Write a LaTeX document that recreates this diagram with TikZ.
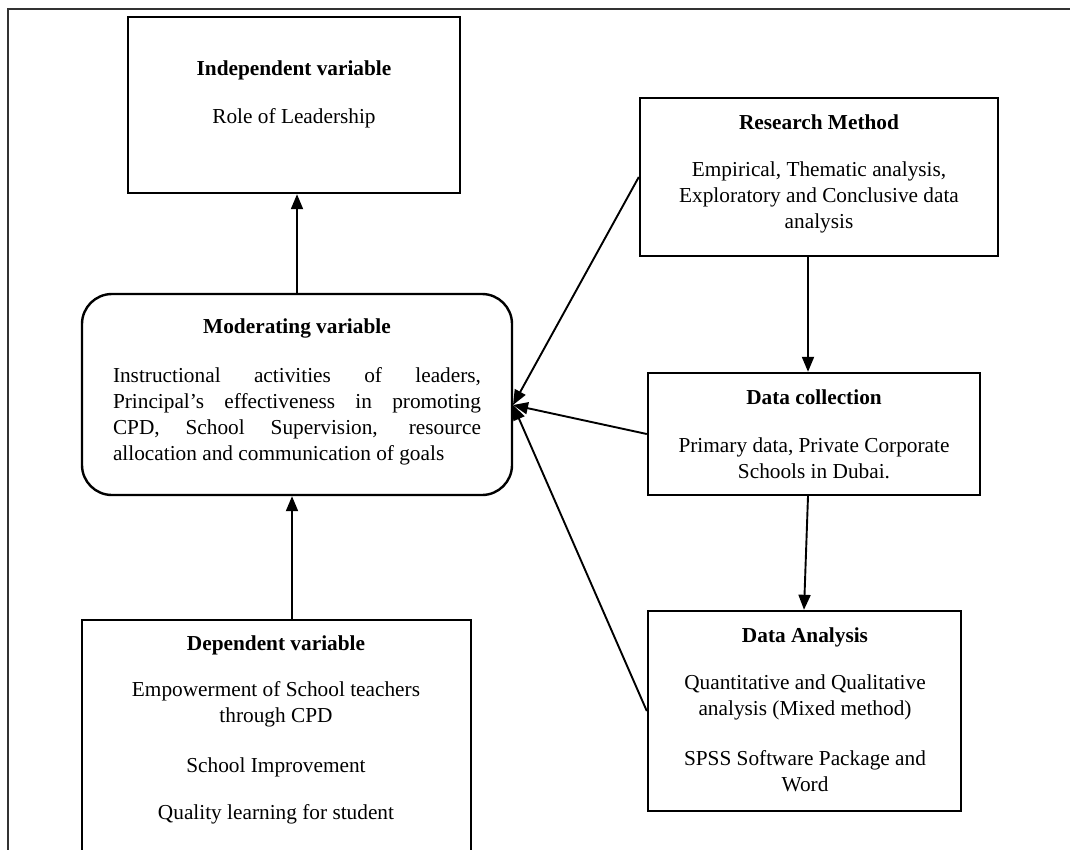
\documentclass[tikz,border=0pt]{standalone}
\usepackage{fontspec}
\setmainfont{Liberation Serif}
\usetikzlibrary{arrows.meta}
\begin{document}
\begin{tikzpicture}[x=1pt,y=-1pt,
  box/.style={draw, line width=2.4pt, inner sep=0pt},
  conn/.style={line width=1.9pt, -{Triangle[length=15pt,width=12pt]}},
  ttl/.style={font=\fontsize{21.3}{26}\selectfont\bfseries, align=center},
  txt/.style={font=\fontsize{21.3}{26}\selectfont, align=center},
]
\useasboundingbox (0,0) rectangle (1070,849);
\clip (0,0) rectangle (1070,849);
\draw[line width=1.4pt, black!80] (8,870) -- (8,9) -- (1080,9);

% boxes
\node[box, minimum width=332pt, minimum height=176pt] (ind) at (294,105) {};
\node[box, minimum width=358pt, minimum height=158pt] (rm) at (819,177) {};
\node[box, rounded corners=30pt, minimum width=430pt, minimum height=201pt] (mod) at (297,394.5) {};
\node[box, minimum width=332pt, minimum height=122pt] (dc) at (814,434) {};
\node[box, minimum width=313pt, minimum height=200pt] (da) at (804.5,711) {};
\node[box, minimum width=389pt, minimum height=300pt] (dep) at (276.5,770) {};

% texts
\node[ttl] (indT) at (294,70) {Independent variable};
\node[txt] (indB) at (294,118) {Role of Leadership};

\node[ttl] (rmT) at (819,122) {Research Method};
\node[txt] (rmB) at (819,197) {Empirical, Thematic analysis,\\Exploratory and Conclusive data\\analysis};

\node[ttl] (modT) at (297,328) {Moderating variable};
\node[font=\fontsize{21.3}{26}\selectfont, text width=368pt, align=justify, inner sep=0pt] (modB) at (297,416.5)
  {Instructional activities of leaders,\linebreak Principal's effectiveness in promoting\linebreak CPD, School Supervision, resource\linebreak allocation and communication of goals};

\node[ttl] (dcT) at (814,397) {Data collection};
\node[txt] (dcB) at (814,458.5) {Primary data, Private Corporate\\Schools in Dubai.};

\node[ttl] (daT) at (805,637) {Data Analysis};
\node[txt] (daB1) at (805,697) {Quantitative and Qualitative\\analysis (Mixed method)};
\node[txt] (daB2) at (805,771) {SPSS Software Package and\\Word};

\node[ttl] (depT) at (276,645) {Dependent variable};
\node[txt] (depB1) at (276,704.5) {Empowerment of School teachers\\through CPD};
\node[txt] (depB2) at (276,767) {School Improvement};
\node[txt] (depB3) at (276,814) {Quality learning for student};

% connectors
\coordinate (mt) at (513,405);
\coordinate (d1) at ([xshift=15.5pt]dep.north);
\coordinate (r1) at ([xshift=-11pt]rm.south);
\coordinate (c1) at ([xshift=-6pt]dc.south);
\draw[conn] (mod.north) -- (mod.north |- ind.south);
\draw[conn] (d1) -- (d1 |- mod.south);
\draw[conn] (rm.west) -- (mt);
\draw[conn] (dc.west) -- (mt);
\draw[conn] (da.west) -- (mt);
\draw[conn] (r1) -- (r1 |- dc.north);
\draw[conn] (c1) -- ([xshift=-0.5pt]da.north);
\end{tikzpicture}
\end{document}
